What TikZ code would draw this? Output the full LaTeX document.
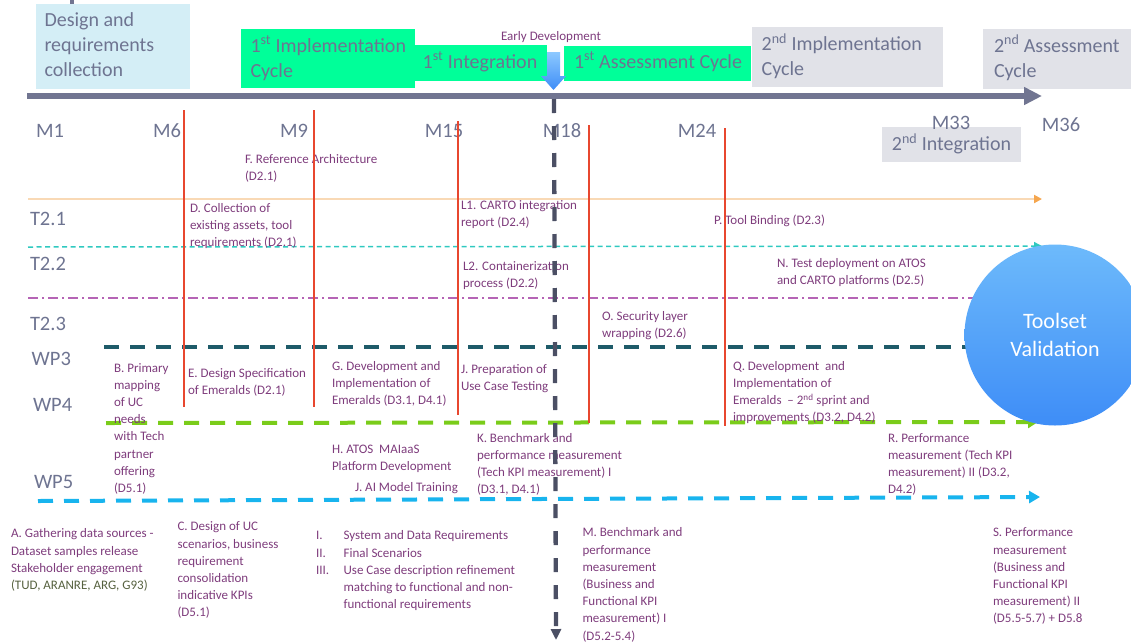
\documentclass[tikz,border=0pt]{standalone}
\usepackage{fontspec}
\setmainfont{Carlito}
\usetikzlibrary{arrows.meta}

\definecolor{axisgray}{HTML}{717591}
\definecolor{labgray}{HTML}{6E7491}
\definecolor{txtpurple}{HTML}{7E3C7C}
\definecolor{txtolive}{HTML}{56613F}
\definecolor{boxcyan}{HTML}{D4EEF6}
\definecolor{boxgreen}{HTML}{00FF99}
\definecolor{boxgray}{HTML}{E1E2E8}
\definecolor{mred}{HTML}{E8472F}
\definecolor{laneorange}{HTML}{F9D9B5}
\definecolor{tiporange}{HTML}{F5A64E}
\definecolor{laneteal}{HTML}{2FC9C0}
\definecolor{lanepurple}{HTML}{B564B5}
\definecolor{lanewpthree}{HTML}{1E5B69}
\definecolor{lanewpfour}{HTML}{7ACC1A}
\definecolor{lanewpfive}{HTML}{18B4EE}
\definecolor{vdash}{HTML}{4B4F64}
\definecolor{bluetop}{HTML}{8DC9FF}
\definecolor{bluebot}{HTML}{3E8DF7}
\definecolor{circtop}{HTML}{6DBAFB}

\tikzset{
  every node/.style={inner sep=0pt, outer sep=0pt},
  phasebox/.style={rectangle, draw=none, anchor=north west},
  cyanbox/.style={phasebox, fill=boxcyan},
  greenbox/.style={phasebox, fill=boxgreen},
  graybox/.style={phasebox, fill=boxgray},
  phasetxt/.style={font=\fontsize{20}{25}\selectfont, text=labgray, align=left, anchor=north west},
  phaseone/.style={font=\fontsize{20}{25}\selectfont, text=labgray, anchor=base},
  month/.style={font=\fontsize{20.5}{24}\selectfont, text=labgray, anchor=base},
  lanelabel/.style={font=\fontsize{20.5}{24}\selectfont, text=labgray, anchor=base west},
  note/.style={font=\fontsize{13}{17.2}\selectfont, text=txtpurple, align=left, anchor=north west},
  milestone/.style={draw=mred, line width=1.8pt},
  timeaxis/.style={draw=axisgray, line width=6pt, -{Triangle[length=18pt, width=17pt]}},
  earlyline/.style={draw=vdash, line width=4.3pt, dash pattern=on 14pt off 13pt,
    -{Triangle[length=11pt, width=10pt]}},
  tasktwoone/.style={draw=laneorange, line width=2pt, -{Triangle[length=8pt, width=8pt, color=tiporange]}},
  tasktwotwo/.style={draw=laneteal, line width=1.5pt, dash pattern=on 5pt off 3.5pt,
    -{Triangle[length=8pt, width=8pt]}},
  tasktwothree/.style={draw=lanepurple, line width=1.5pt, dash pattern=on 10pt off 4pt on 2pt off 4pt},
  wpline/.style={line width=4pt, dash pattern=on 15pt off 11pt},
}

\begin{document}
\begin{tikzpicture}[x=1pt, y=-1pt]
\useasboundingbox (0,0) rectangle (1131,643);

% ---------- phase boxes above the time axis ----------
\fill[axisgray] (70,0) rectangle (74,4);
\node[cyanbox, minimum width=154pt, minimum height=85pt] (designbox) at (36,4) {};
\node[greenbox, minimum width=174pt, minimum height=59pt] (implonebox) at (241,29) {};
\node[greenbox, minimum width=134pt, minimum height=36pt] (integonebox) at (413,45) {};
\node[greenbox, minimum width=187pt, minimum height=35pt] (assessonebox) at (564,46) {};
\node[graybox, minimum width=191pt, minimum height=60pt] (impltwobox) at (752,27) {};
\node[graybox, minimum width=150pt, minimum height=60pt] (assesstwobox) at (983,29) {};
\node[graybox, minimum width=139pt, minimum height=35pt] (integtwobox) at (882,127) {};

\node[phasetxt] (designtxt) at (44.5,9.2) {\strut Design and\\requirements\\collection};
\node[phasetxt] (implonetxt) at (250.5,34.8) {\strut 1\textsuperscript{st} Implementation\\Cycle};
\node[phaseone] (integonetxt) at (480,68.3) {1\textsuperscript{st} Integration};
\node[phaseone] (assessonetxt) at (658,68.3) {1\textsuperscript{st} Assessment Cycle};
\node[phasetxt] (impltwotxt) at (761.7,33.2) {\strut 2\textsuperscript{nd} Implementation\\Cycle};
\node[phasetxt] (assesstwotxt) at (994,34.8) {\strut 2\textsuperscript{nd} Assessment\\Cycle};
\node[phaseone] (integtwotxt) at (951.5,150.7) {2\textsuperscript{nd} Integration};

% early development marker
\node[font=\fontsize{13}{17}\selectfont, text=txtpurple, anchor=base] (earlytxt) at (551,40) {Early Development};
\shade[top color=bluetop, bottom color=bluebot]
  (547,52) -- (560,52) -- (560,76) -- (566,76) -- (553.5,90) -- (541,76) -- (547,76) -- cycle;

% ---------- time axis and months ----------
\coordinate (axstart) at (27,96);
\coordinate (axend) at (1042,96);
\draw[timeaxis] (axstart) -- (axend);

\node[month] (mone) at (50,137.3) {M1};
\node[month] (msix) at (167,137.3) {M6};
\node[month] (mnine) at (294,137.3) {M9};
\node[month] (mfifteen) at (444,137.3) {M15};
\node[month] (meighteen) at (562,137.3) {M18};
\node[month] (mtwentyfour) at (697,137.3) {M24};
\node[month] (mthirtythree) at (951,129) {M33};
\node[month] (mthirtysix) at (1061,131) {M36};

% ---------- task / work-package lanes ----------
\node[lanelabel] (ltone) at (30,225) {T2.1};
\node[lanelabel] (lttwo) at (30,270) {T2.2};
\node[lanelabel] (ltthree) at (30,330) {T2.3};
\node[lanelabel] (lwpthree) at (31.7,365) {WP3};
\node[lanelabel] (lwpfour) at (33,411.7) {WP4};
\node[lanelabel] (lwpfive) at (34,488) {WP5};

\coordinate (tonea) at (28,199);   \coordinate (toneb) at (1042,199);
\coordinate (ttwoa) at (28,247);   \coordinate (ttwob) at (1042,246);
\coordinate (tthreea) at (28,298); \coordinate (tthreeb) at (975,298);
\coordinate (wthreea) at (104,347); \coordinate (wthreeb) at (975,347);
\coordinate (wfoura) at (106,423); \coordinate (wfourb) at (1038,422);
\coordinate (wfivea) at (38,501);  \coordinate (wfiveb) at (1040,497);

\draw[tasktwoone] (tonea) -- (toneb);
\draw[tasktwotwo] (ttwoa) -- (ttwob);
\draw[tasktwothree] (tthreea) -- (tthreeb);
\draw[wpline, draw=lanewpthree] (wthreea) -- (wthreeb);
\draw[wpline, draw=lanewpfour, -{Triangle[length=10pt, width=12pt]}] (wfoura) -- (wfourb);
\draw[wpline, draw=lanewpfive, -{Triangle[length=11pt, width=12pt]}] (wfivea) -- (wfiveb);

\node[circle, minimum size=181pt, top color=circtop, bottom color=bluebot,
      font=\fontsize{22}{28.4}\selectfont, text=white, align=center] (toolset) at (1055,335)
      {Toolset\\Validation};

% ---------- deliverable notes ----------
\node[note] (nf) at (245,151.1) {\strut F. Reference Architecture\\(D2.1)};
\node[note] (nd) at (190,200.1) {\strut D. Collection of\\existing assets, tool\\requirements (D2.1)};
\node[note] (nlone) at (461,197.1) {\strut L1. CARTO integration\\report (D2.4)};
\node[note] (np) at (714,212.1) {\strut P. Tool Binding (D2.3)};
\node[note] (nltwo) at (463,258.1) {\strut L2. Containerization\\process (D2.2)};
\node[note] (nn) at (777,255.1) {\strut N. Test deployment on ATOS\\and CARTO platforms (D2.5)};
\node[note] (no) at (602,308.1) {\strut O. Security layer\\wrapping (D2.6)};
\node[note] (nb) at (114,360.1) {\strut B. Primary\\mapping\\of UC\\needs\\with Tech\\partner\\offering\\(D5.1)};
\node[note] (ne) at (188,365.1) {\strut E. Design Specification\\of Emeralds (D2.1)};
\node[note] (ng) at (332,358.1) {\strut G. Development and\\Implementation of\\Emeralds (D3.1, D4.1)};
\node[note] (njprep) at (461,361.1) {\strut J. Preparation of\\Use Case Testing};
\node[note] (nq) at (733,358.1) {\strut Q. Development\ \ and\\Implementation of\\Emeralds\ \ -- 2\textsuperscript{nd} sprint and\\improvements (D3.2, D4.2)};
\node[note] (nh) at (332,441.1) {\strut H. ATOS\ \ MAIaaS\\Platform Development};
\node[note] (njai) at (355,479.1) {\strut J. AI Model Training};
\node[note] (nk) at (477,430.1) {\strut K. Benchmark and\\performance measurement\\(Tech KPI measurement) I\\(D3.1, D4.1)};
\node[note] (nr) at (888,430.1) {\strut R. Performance\\measurement (Tech KPI\\measurement) II (D3.2,\\D4.2)};

\node[note] (na) at (11,525.9) {\strut A. Gathering data sources -\\Dataset samples release\\Stakeholder engagement\\\textcolor{txtolive}{(TUD, ARANRE, ARG, G93)}};
\node[note] (nc) at (177.5,518.9) {\strut C. Design of UC\\scenarios, business\\requirement\\consolidation\\indicative KPIs\\(D5.1)};
\node[note] (nlist) at (316,527.9) {\begin{tabular}{@{}p{27.6pt}@{}l@{}}
  I. & System and Data Requirements\\
  II. & Final Scenarios\\
  III. & Use Case description refinement\\
   & matching to functional and non-\\
   & functional requirements
\end{tabular}};
\node[note] (nm) at (582.5,524.9) {\strut M. Benchmark and\\performance\\measurement\\(Business and\\Functional KPI\\measurement) I\\(D5.2-5.4)};
\node[note] (ns) at (993,524.9) {\strut S. Performance\\measurement\\(Business and\\Functional KPI\\measurement) II\\(D5.5-5.7) + D5.8};

% ---------- milestone lines ----------
\foreach \i/\x/\ya/\yb in {1/184/110/407, 2/314/110/407, 3/458/121/415, 4/589/125/423, 5/725/128/426} {
  \coordinate (mst\i) at (\x,\ya);
  \coordinate (msb\i) at (\x,\yb);
  \draw[milestone] (mst\i) -- (msb\i);
}

% early development cut line
\coordinate (edtop) at (554,99);
\coordinate (edbot) at (556,640);
\draw[earlyline] (edtop) -- (edbot);

\end{tikzpicture}
\end{document}
